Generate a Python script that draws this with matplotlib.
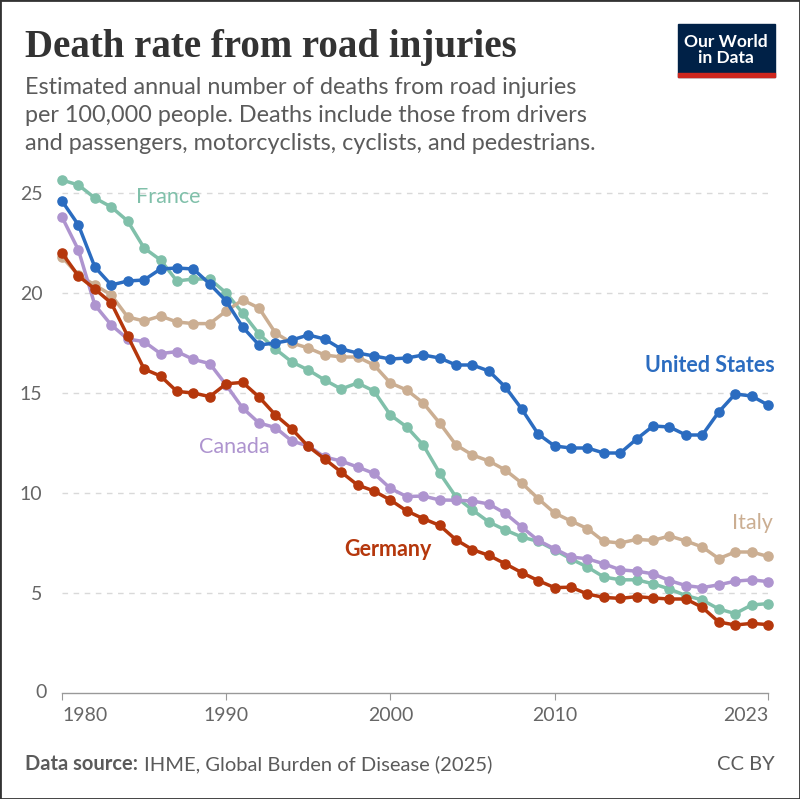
import matplotlib.pyplot as plt
from matplotlib.patches import Rectangle

# data (deaths per 100,000 people)
years = list(range(1980, 2024))

united_states = [24.6, 23.4, 21.3, 20.4, 20.6, 20.65, 21.2, 21.25, 21.2, 20.45,
                 19.6, 18.3, 17.4, 17.5, 17.65, 17.9, 17.7, 17.2, 17.0, 16.85,
                 16.7, 16.75, 16.9, 16.75, 16.4, 16.4, 16.1, 15.3, 14.2, 12.95,
                 12.35, 12.25, 12.25, 12.0, 12.0, 12.7, 13.35, 13.3, 12.9, 12.9,
                 14.05, 14.95, 14.85, 14.4]
france = [25.65, 25.4, 24.75, 24.3, 23.6, 22.25, 21.65, 20.6, 20.7, 20.7,
          20.0, 19.0, 17.95, 17.2, 16.55, 16.15, 15.65, 15.2, 15.5, 15.1,
          13.9, 13.3, 12.4, 11.0, 9.8, 9.15, 8.55, 8.15, 7.8, 7.58,
          7.16, 6.7, 6.3, 5.8, 5.66, 5.66, 5.46, 5.2, 4.87, 4.65,
          4.2, 3.97, 4.4, 4.47]
italy = [21.8, 20.9, 20.4, 19.9, 18.8, 18.6, 18.85, 18.55, 18.47, 18.47,
         19.1, 19.65, 19.25, 18.0, 17.5, 17.25, 16.9, 16.8, 16.8, 16.4,
         15.5, 15.15, 14.5, 13.5, 12.4, 11.9, 11.6, 11.15, 10.5, 9.72,
         9.0, 8.6, 8.22, 7.58, 7.5, 7.68, 7.63, 7.85, 7.6, 7.3,
         6.72, 7.05, 7.05, 6.83]
canada = [23.8, 22.15, 19.4, 18.4, 17.7, 17.57, 16.97, 17.07, 16.68, 16.47,
          15.4, 14.25, 13.5, 13.27, 12.6, 12.35, 11.8, 11.6, 11.3, 10.98,
          10.23, 9.82, 9.85, 9.65, 9.64, 9.6, 9.45, 8.98, 8.3, 7.63,
          7.21, 6.8, 6.71, 6.46, 6.16, 6.09, 5.96, 5.62, 5.37, 5.27,
          5.41, 5.59, 5.66, 5.57]
germany = [22.0, 20.85, 20.2, 19.5, 17.85, 16.2, 15.85, 15.08, 15.0, 14.82,
           15.46, 15.53, 14.8, 13.9, 13.2, 12.33, 11.7, 11.05, 10.4, 10.1,
           9.65, 9.1, 8.72, 8.38, 7.66, 7.17, 6.88, 6.46, 6.02, 5.62,
           5.27, 5.29, 4.95, 4.78, 4.73, 4.82, 4.75, 4.7, 4.7, 4.28,
           3.55, 3.4, 3.48, 3.42]

x_ticks = [1980, 1990, 2000, 2010, 2023]
y_ticks = [5, 10, 15, 20, 25]

# faded series first, highlighted ones on top
# (name, values, colour, label x, label y, alignment, weight)
series = [
    ("France", france, "#80c0aa", 1986.45, 24.8, "center", "normal"),
    ("Italy", italy, "#cbae92", 2023.3, 8.5, "right", "normal"),
    ("Canada", canada, "#ae94cf", 1990.5, 12.3, "center", "normal"),
    ("United States", united_states, "#2b6cc0", 2023.4, 16.4, "right", "bold"),
    ("Germany", germany, "#b5370c", 1999.85, 7.2, "center", "bold"),
]

plt.rcParams['font.family'] = ['Lato', 'DejaVu Sans']

fig = plt.figure(figsize=(8, 7.99), dpi=100)
ax = fig.add_axes([62 / 800, 1 - 693 / 799, 706 / 800, 520 / 799])

for name, vals, color, lx, ly, ha, weight in series:
    ax.plot(years, vals, color=color, lw=2.5, marker='o', ms=6.6,
            solid_capstyle='round', clip_on=False, zorder=3)
    ax.text(lx, ly, name, color=color, fontsize=15.5, ha=ha, va='center',
            fontweight=weight, clip_on=False)

ax.set_xlim(1980, 2023)
ax.set_ylim(0, 26)

ax.set_yticks(y_ticks)
ax.yaxis.grid(True, color='#d9d9d9', linestyle=(0, (4, 4)), lw=1)
ax.set_axisbelow(True)
ax.tick_params(axis='y', length=0, labelsize=14, labelcolor='#666666', pad=14)
ax.text(-0.021, 0, "0", transform=ax.get_yaxis_transform(), ha='right',
        va='center', fontsize=14, color='#666666')

ax.set_xticks(x_ticks)
ax.tick_params(axis='x', length=5, color='#999999', labelsize=14,
               labelcolor='#666666', pad=5)
labels = ax.get_xticklabels()
labels[0].set_horizontalalignment('left')
labels[-1].set_horizontalalignment('right')

for side in ['top', 'right', 'left']:
    ax.spines[side].set_visible(False)
ax.spines['bottom'].set_color('#999999')
ax.spines['bottom'].set_linewidth(1)

# title and subtitle
fig.text(25 / 800, 1 - 47 / 799, "Death rate from road injuries",
         family='Liberation Serif', fontsize=28, fontweight='bold',
         color='#333333', va='center')
fig.text(25 / 800, 1 - 77 / 799,
         "Estimated annual number of deaths from road injuries\n"
         "per 100,000 people. Deaths include those from drivers\n"
         "and passengers, motorcyclists, cyclists, and pedestrians.",
         fontsize=16.8, color='#5b5b5b', va='top', linespacing=1.41)

# logo
fig.patches.append(Rectangle((678 / 800, 1 - 77 / 799), 97 / 800, 53 / 799,
                             transform=fig.transFigure, color='#002147'))
fig.patches.append(Rectangle((678 / 800, 1 - 77 / 799), 97 / 800, 4 / 799,
                             transform=fig.transFigure, color='#ce261e'))
fig.text(726 / 800, 1 - 50 / 799, "Our World\nin Data", color='white',
         fontsize=12.5, fontweight='bold', ha='center', va='center',
         linespacing=1.05)

# footer
fig.text(25 / 800, 1 - 764 / 799, "Data source:", fontsize=14.5,
         fontweight='bold', color='#5b5b5b', va='center')
fig.text(144 / 800, 1 - 764 / 799, "IHME, Global Burden of Disease (2025)",
         fontsize=14.5, color='#5b5b5b', va='center')
fig.text(775 / 800, 1 - 764 / 799, "CC BY", fontsize=14.5, color='#5b5b5b',
         va='center', ha='right')

# frame around the whole picture
fig.patches.append(Rectangle((0, 0), 1, 1, transform=fig.transFigure,
                             fill=False, edgecolor='#333333', lw=2))

fig.savefig('out.png', dpi=100, facecolor='white')
